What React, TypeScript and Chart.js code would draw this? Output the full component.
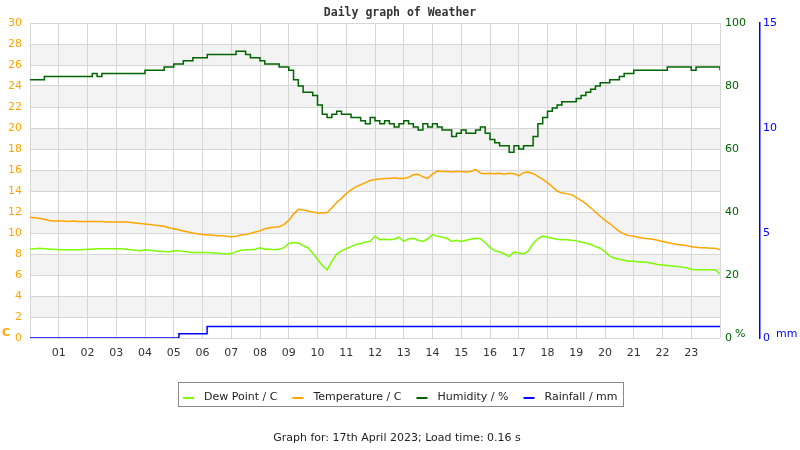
import { useEffect, useRef } from 'react';
import { Chart, registerables } from 'chart.js';

Chart.register(...registerables);

const TITLE = 'Daily graph of Weather';
const FOOTER = 'Graph for: 17th April 2023; Load time: 0.16 s';
const HOUR_LABELS = ['01', '02', '03', '04', '05', '06', '07', '08', '09', '10', '11', '12',
  '13', '14', '15', '16', '17', '18', '19', '20', '21', '22', '23'];
const SERIES_NAMES = ['Dew Point / C', 'Temperature / C', 'Humidity / %', 'Rainfall / mm'];

// one reading every 10 minutes, rows = hours 00..23, last value = 24:00
const SAMPLE_MINUTES = 10;

const DEW_POINT = [
  8.45, 8.5, 8.55, 8.5, 8.45, 8.45,
  8.4, 8.4, 8.4, 8.4, 8.4, 8.4,
  8.45, 8.45, 8.5, 8.5, 8.5, 8.5,
  8.5, 8.5, 8.45, 8.4, 8.35, 8.3,
  8.4, 8.35, 8.3, 8.25, 8.25, 8.2,
  8.3, 8.3, 8.25, 8.2, 8.15, 8.15,
  8.15, 8.15, 8.1, 8.1, 8.05, 8.0,
  8.05, 8.2, 8.35, 8.4, 8.4, 8.45,
  8.6, 8.45, 8.45, 8.4, 8.45, 8.6,
  9.0, 9.1, 9.05, 8.8, 8.6, 8.1,
  7.5, 6.9, 6.5, 7.3, 8.0, 8.3,
  8.5, 8.7, 8.9, 9.0, 9.15, 9.2,
  9.7, 9.35, 9.4, 9.35, 9.4, 9.6,
  9.2, 9.45, 9.5, 9.3, 9.2, 9.45,
  9.85, 9.7, 9.6, 9.5, 9.2, 9.3,
  9.2, 9.3, 9.4, 9.5, 9.45, 9.1,
  8.6, 8.3, 8.2, 8.0, 7.75, 8.2,
  8.1, 8.0, 8.3, 9.0, 9.45, 9.7,
  9.6, 9.5, 9.4, 9.35, 9.35, 9.3,
  9.25, 9.15, 9.05, 8.9, 8.7, 8.55,
  8.2, 7.8, 7.6, 7.5, 7.4, 7.3,
  7.3, 7.25, 7.25, 7.2, 7.1, 7.0,
  6.95, 6.9, 6.85, 6.8, 6.75, 6.7,
  6.55, 6.5, 6.5, 6.5, 6.5, 6.5,
  6.1,
];

const TEMPERATURE = [
  11.5, 11.45, 11.4, 11.3, 11.2, 11.15,
  11.15, 11.15, 11.1, 11.15, 11.1, 11.1,
  11.1, 11.1, 11.1, 11.1, 11.05, 11.05,
  11.05, 11.05, 11.05, 11.0, 10.95, 10.9,
  10.85, 10.8, 10.75, 10.7, 10.65, 10.5,
  10.4, 10.3, 10.2, 10.1, 10.0, 9.9,
  9.85, 9.8, 9.8, 9.75, 9.75, 9.7,
  9.65, 9.7, 9.8, 9.85, 9.95, 10.1,
  10.2, 10.4, 10.5, 10.55, 10.6, 10.8,
  11.2, 11.8, 12.25, 12.2, 12.1, 12.0,
  11.9, 11.9, 11.95, 12.4, 12.9, 13.3,
  13.75, 14.1, 14.4, 14.6, 14.8, 15.0,
  15.1, 15.15, 15.2, 15.2, 15.25, 15.2,
  15.2, 15.3, 15.55, 15.6, 15.35, 15.2,
  15.6, 15.9, 15.85, 15.85, 15.8, 15.85,
  15.85, 15.8, 15.85, 16.05, 15.7, 15.65,
  15.7, 15.65, 15.7, 15.6, 15.7, 15.65,
  15.45, 15.75, 15.8, 15.65, 15.4, 15.1,
  14.8, 14.4, 14.0, 13.8, 13.75, 13.65,
  13.4, 13.1, 12.8, 12.4, 12.0, 11.6,
  11.2, 10.9, 10.5, 10.15, 9.9, 9.75,
  9.7, 9.6, 9.5, 9.45, 9.4, 9.3,
  9.2, 9.1, 9.0, 8.9, 8.85, 8.8,
  8.7, 8.65, 8.6, 8.6, 8.55, 8.55,
  8.4,
];

const HUMIDITY = [
  82, 82, 82, 83, 83, 83,
  83, 83, 83, 83, 83, 83,
  83, 84, 83, 84, 84, 84,
  84, 84, 84, 84, 84, 84,
  85, 85, 85, 85, 86, 86,
  87, 87, 88, 88, 89, 89,
  89, 90, 90, 90, 90, 90,
  90, 91, 91, 90, 89, 89,
  88, 87, 87, 87, 86, 86,
  85, 82, 80, 78, 78, 77,
  74, 71, 70, 71, 72, 71,
  71, 70, 70, 69, 68, 70,
  69, 68, 69, 68, 67, 68,
  69, 68, 67, 66, 68, 67,
  68, 67, 66, 66, 64, 65,
  66, 65, 65, 66, 67, 65,
  63, 62, 61, 61, 59, 61,
  60, 61, 61, 64, 68, 70,
  72, 73, 74, 75, 75, 75,
  76, 77, 78, 79, 80, 81,
  81, 82, 82, 83, 84, 84,
  85, 85, 85, 85, 85, 85,
  85, 86, 86, 86, 86, 86,
  85, 86, 86, 86, 86, 86,
  85,
];

const RAIN_HOURS = [0, 5.18, 6.16, 24];
const RAINFALL = [0, 0.2, 0.55, 0.55];

const DEW_COLOR = '#7CFC00';
const TEMP_COLOR = '#FFA500';
const HUM_COLOR = '#006400';
const RAIN_COLOR = '#0000FF';
const GRID_COLOR = '#d6d6d6';
const BAND_COLOR = '#f3f3f3';
const FONT = '"DejaVu Sans"';

const sampleHours = TEMPERATURE.map((_, i) => (i * SAMPLE_MINUTES) / 60);
const toPoints = (xs: number[], ys: number[]) => ys.map((y, i) => ({ x: xs[i], y }));

const decorPlugin = {
  id: 'decor',
  beforeDraw(chart: any) {
    const { ctx, chartArea, scales } = chart;
    ctx.save();
    ctx.fillStyle = '#ffffff';
    ctx.fillRect(0, 0, chart.width, chart.height);
    const y = scales.y;
    ctx.fillStyle = BAND_COLOR;
    for (let v = 2; v < 30; v += 4) {
      const top = y.getPixelForValue(v + 2);
      const bottom = y.getPixelForValue(v);
      ctx.fillRect(chartArea.left, top, chartArea.right - chartArea.left, bottom - top);
    }
    ctx.restore();
  },
  afterDraw(chart: any) {
    const { ctx, chartArea, scales } = chart;
    ctx.save();
    ctx.textBaseline = 'middle';
    ctx.textAlign = 'left';
    // unit labels
    ctx.font = `bold 11px ${FONT}`;
    ctx.fillStyle = TEMP_COLOR;
    ctx.fillText('C', 2, chartArea.bottom - 5);
    ctx.font = `11px ${FONT}`;
    ctx.fillStyle = HUM_COLOR;
    ctx.fillText('%', chartArea.right + 15, chartArea.bottom - 4);
    ctx.fillStyle = RAIN_COLOR;
    ctx.fillText('mm', scales.yRain.left + 16, chartArea.bottom - 4);

    // legend
    const items = chart.data.datasets.map((d: any) => ({ label: d.label, color: d.borderColor }));
    ctx.font = `11px ${FONT}`;
    const widths = items.map((it: any) => ctx.measureText(it.label).width);
    const SW = 11, GAP = 10, ITEM_GAP = 15, PAD = 5;
    const total = PAD * 2 + widths.reduce((a: number, w: number) => a + SW + GAP + w, 0) + ITEM_GAP * (items.length - 1);
    const left = Math.round(400.5 - total / 2);
    const top = 383;
    ctx.strokeStyle = '#8a8a8a';
    ctx.lineWidth = 1;
    ctx.strokeRect(left + 0.5, top - 0.5, Math.round(total), 24);
    let cx = left + PAD;
    items.forEach((it: any, i: number) => {
      ctx.strokeStyle = it.color;
      ctx.lineWidth = 2;
      ctx.beginPath();
      ctx.moveTo(cx, 398);
      ctx.lineTo(cx + SW, 398);
      ctx.stroke();
      ctx.fillStyle = '#222';
      ctx.fillText(it.label, cx + SW + GAP, 397);
      cx += SW + GAP + widths[i] + ITEM_GAP;
    });

    // footer
    ctx.textAlign = 'center';
    ctx.fillStyle = '#222';
    ctx.font = `11px ${FONT}`;
    ctx.fillText(FOOTER, 397, 438);
    ctx.restore();
  },
};

export default function App() {
  const ref = useRef<HTMLCanvasElement>(null);
  useEffect(() => {
    document.body.style.margin = '0';
    Chart.defaults.font.family = FONT;
    const chart = new Chart(ref.current as HTMLCanvasElement, {
      type: 'line',
      data: {
        datasets: [
          {
            label: SERIES_NAMES[0],
            data: toPoints(sampleHours, DEW_POINT),
            borderColor: DEW_COLOR,
            backgroundColor: DEW_COLOR,
            borderWidth: 1.5,
            pointRadius: 0,
            tension: 0,
            yAxisID: 'y',
          },
          {
            label: SERIES_NAMES[1],
            data: toPoints(sampleHours, TEMPERATURE),
            borderColor: TEMP_COLOR,
            backgroundColor: TEMP_COLOR,
            borderWidth: 1.5,
            pointRadius: 0,
            tension: 0,
            yAxisID: 'y',
          },
          {
            label: SERIES_NAMES[2],
            data: toPoints(sampleHours, HUMIDITY),
            borderColor: HUM_COLOR,
            backgroundColor: HUM_COLOR,
            borderWidth: 1.5,
            pointRadius: 0,
            stepped: 'before',
            yAxisID: 'yHum',
          },
          {
            label: SERIES_NAMES[3],
            data: toPoints(RAIN_HOURS, RAINFALL),
            borderColor: RAIN_COLOR,
            backgroundColor: RAIN_COLOR,
            borderWidth: 1.5,
            pointRadius: 0,
            stepped: 'before',
            yAxisID: 'yRain',
          },
        ],
      },
      options: {
        responsive: false,
        animation: false,
        devicePixelRatio: 1,
        layout: { padding: 0 },
        plugins: {
          legend: { display: false },
          tooltip: { enabled: false },
          title: {
            display: true,
            text: TITLE,
            color: '#333',
            font: { family: '"DejaVu Sans Mono"', size: 11.5, weight: 'bold' },
            padding: { top: 6, bottom: 3.2 },
          },
        },
        scales: {
          x: {
            type: 'linear',
            min: 0,
            max: 24,
            afterFit: (s: any) => { s.height = 112; },
            grid: { color: GRID_COLOR, drawTicks: false, lineWidth: 1 },
            border: { display: false },
            ticks: {
              stepSize: 1,
              autoSkip: false,
              maxRotation: 0,
              padding: 9,
              color: '#333',
              font: { size: 11 },
              callback: (v: any) => (v >= 1 && v <= 23 ? HOUR_LABELS[v - 1] : ''),
            },
          },
          y: {
            type: 'linear',
            position: 'left',
            min: 0,
            max: 30,
            afterFit: (s: any) => { s.width = 30; },
            grid: { color: GRID_COLOR, drawTicks: false, lineWidth: 1 },
            border: { display: false },
            ticks: { stepSize: 2, padding: 8, color: TEMP_COLOR, font: { size: 11 } },
          },
          yHum: {
            type: 'linear',
            position: 'right',
            weight: 0,
            min: 0,
            max: 100,
            afterFit: (s: any) => { s.width = 40; },
            grid: { display: false, drawTicks: false },
            border: { display: false },
            ticks: { stepSize: 20, padding: 5, color: HUM_COLOR, font: { size: 11 } },
          },
          yRain: {
            type: 'linear',
            position: 'right',
            weight: 1,
            min: 0,
            max: 15,
            afterFit: (s: any) => { s.width = 40; },
            grid: { display: false, drawTicks: false },
            border: { display: true, color: RAIN_COLOR, width: 1.5 },
            ticks: { stepSize: 5, padding: 3, color: RAIN_COLOR, font: { size: 11 } },
          },
        },
      },
      plugins: [decorPlugin],
    } as any);
    return () => chart.destroy();
  }, []);
  return (
    <div style={{ position: 'absolute', left: 0, top: 0, width: 800, height: 450, background: '#fff' }}>
      <canvas ref={ref} width={800} height={450} style={{ display: 'block', width: 800, height: 450 }} />
    </div>
  );
}
